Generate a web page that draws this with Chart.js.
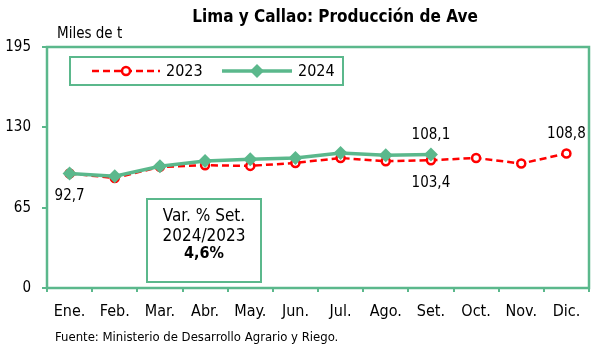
<!DOCTYPE html>
<html>
<head>
<meta charset="utf-8">
<script src="https://cdn.jsdelivr.net/npm/chart.js@4.4.1/dist/chart.umd.min.js"></script>
<style>
  html, body { margin: 0; padding: 0; background: #fff; }
  #wrap { width: 596px; height: 347px; position: relative; }
</style>
</head>
<body>
<div id="wrap"><canvas id="chart" width="596" height="347"></canvas></div>
<script>
// Producción de ave, Lima y Callao (miles de t)
const meses = ['Ene.', 'Feb.', 'Mar.', 'Abr.', 'May.', 'Jun.', 'Jul.', 'Ago.', 'Set.', 'Oct.', 'Nov.', 'Dic.'];
const prod2023 = [92.7, 89.0, 98.0, 99.3, 98.8, 101.2, 105.2, 102.6, 103.4, 105.2, 100.7, 108.8];
const prod2024 = [92.7, 90.4, 98.5, 102.8, 104.2, 105.2, 109.3, 107.4, 108.1, null, null, null];
const yTicks = [0, 65, 130, 195];
// etiquetas de valor: serie, mes, arriba/abajo
const etiquetas = [
  { serie: 0, mes: 0, lado: 'abajo' },
  { serie: 1, mes: 8, lado: 'arriba' },
  { serie: 0, mes: 8, lado: 'abajo' },
  { serie: 0, mes: 11, lado: 'arriba' }
];
const varTexto = ['Var. % Set.', '2024/2023', '4,6%'];

const VERDE = '#5bb88c';
const ROJO = '#ff0000';
const FUENTE = "'Liberation Sans Narrow', 'Arial Narrow', 'DejaVu Sans Condensed', sans-serif";

const fmt = v => v.toFixed(1).replace('.', ',');

// textos, marco y cuadros dibujados sobre el canvas
const extras = {
  id: 'extras',
  afterDatasetsDraw(chart) {
    const { ctx, chartArea: a, scales: { x, y } } = chart;
    ctx.save();
    // marco del área
    ctx.strokeStyle = VERDE; ctx.lineWidth = 2.5;
    ctx.strokeRect(a.left, a.top, a.right - a.left, a.bottom - a.top);

    ctx.fillStyle = '#000';
    ctx.textBaseline = 'middle';

    // etiquetas de valores
    ctx.font = `15px ${FUENTE}`;
    ctx.textAlign = 'center';
    etiquetas.forEach(e => {
      const v = chart.data.datasets[e.serie].data[e.mes];
      const px = x.getPixelForValue(e.mes), py = y.getPixelForValue(v);
      ctx.fillText(fmt(v), px, e.lado === 'arriba' ? py - 19 : py + 23);
    });

    // leyenda
    ctx.fillStyle = '#fff';
    ctx.fillRect(70, 57, 273, 28);
    ctx.strokeStyle = VERDE; ctx.lineWidth = 2;
    ctx.strokeRect(70, 57, 273, 28);
    const ly = 71;
    // 2023
    ctx.strokeStyle = ROJO; ctx.lineWidth = 2.5; ctx.setLineDash([7, 4]);
    ctx.beginPath(); ctx.moveTo(92, ly); ctx.lineTo(160, ly); ctx.stroke();
    ctx.setLineDash([]);
    ctx.fillStyle = '#fff';
    ctx.beginPath(); ctx.arc(126, ly, 4, 0, Math.PI * 2); ctx.fill(); ctx.stroke();
    // 2024
    ctx.strokeStyle = VERDE; ctx.lineWidth = 3.5;
    ctx.beginPath(); ctx.moveTo(222, ly); ctx.lineTo(292, ly); ctx.stroke();
    ctx.fillStyle = VERDE;
    ctx.beginPath(); ctx.moveTo(257, ly - 7); ctx.lineTo(264, ly); ctx.lineTo(257, ly + 7); ctx.lineTo(250, ly); ctx.closePath(); ctx.fill();
    ctx.fillStyle = '#000'; ctx.textAlign = 'left';
    ctx.font = `16px ${FUENTE}`;
    ctx.fillText(chart.data.datasets[0].label, 166, ly + 1);
    ctx.fillText(chart.data.datasets[1].label, 298, ly + 1);

    // cuadro de variación
    ctx.strokeStyle = VERDE; ctx.lineWidth = 2;
    ctx.fillStyle = '#fff';
    ctx.fillRect(147, 199, 114, 83);
    ctx.strokeRect(147, 199, 114, 83);
    ctx.fillStyle = '#000'; ctx.textAlign = 'center';
    ctx.font = `17px ${FUENTE}`;
    ctx.fillText(varTexto[0], 204, 217);
    ctx.fillText(varTexto[1], 204, 237);
    ctx.font = `bold 16px ${FUENTE}`;
    ctx.fillText(varTexto[2], 204, 254);

    // título, unidad y fuente
    ctx.font = `bold 17px ${FUENTE}`;
    ctx.fillText('Lima y Callao: Producción de Ave', 335, 18);
    ctx.textAlign = 'left';
    ctx.font = `15px ${FUENTE}`;
    ctx.fillText('Miles de t', 57, 34);
    ctx.font = `13px ${FUENTE}`;
    ctx.fillText('Fuente: Ministerio de Desarrollo Agrario y Riego.', 55, 338);
    ctx.restore();
  }
};

new Chart(document.getElementById('chart'), {
  type: 'line',
  data: {
    labels: meses,
    datasets: [
      {
        label: '2023', data: prod2023, order: 2,
        borderColor: ROJO, borderWidth: 2.5, borderDash: [7, 4],
        pointStyle: 'circle', pointRadius: 4, pointBorderWidth: 2.5,
        pointBackgroundColor: '#fff', pointBorderColor: ROJO, tension: 0
      },
      {
        label: '2024', data: prod2024, order: 1,
        borderColor: VERDE, borderWidth: 3.5,
        pointStyle: 'rectRot', pointRadius: 7, pointBorderWidth: 0,
        pointBackgroundColor: VERDE, pointBorderColor: VERDE, tension: 0
      }
    ]
  },
  options: {
    responsive: false,
    animation: false,
    layout: { padding: { top: 47, right: 2, left: 0, bottom: 0 } },
    plugins: { legend: { display: false }, tooltip: { enabled: false }, title: { display: false } },
    scales: {
      x: {
        offset: true,
        afterFit: s => { s.height = 59; },
        border: { display: false },
        grid: { offset: true, drawOnChartArea: false, color: VERDE, lineWidth: 2, tickLength: 4 },
        ticks: { color: '#000', padding: 10, maxRotation: 0, autoSkip: false, font: { family: FUENTE, size: 16 } }
      },
      y: {
        min: 0, max: 195,
        afterFit: s => { s.width = 47; },
        afterBuildTicks: s => { s.ticks = yTicks.map(v => ({ value: v })); },
        border: { display: false },
        grid: { drawOnChartArea: false, color: VERDE, lineWidth: 2, tickLength: 5 },
        ticks: { color: '#000', padding: 11, font: { family: FUENTE, size: 15 } }
      }
    }
  },
  plugins: [extras]
});
</script>
</body>
</html>
